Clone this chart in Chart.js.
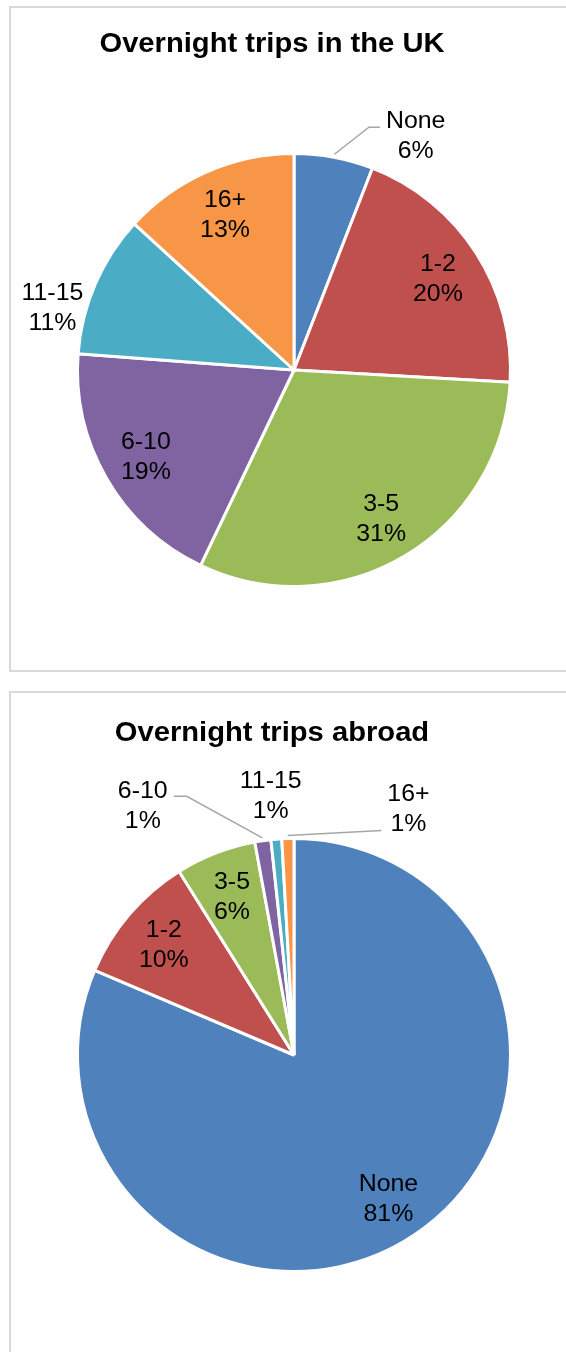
<!DOCTYPE html>
<html><head><meta charset="utf-8">
<script src="https://cdn.jsdelivr.net/npm/chart.js@4.4.1/dist/chart.umd.min.js"></script>
<style>
html,body{margin:0;padding:0;background:#fff;width:566px;height:1352px;overflow:hidden;position:relative}
.panel{position:absolute;left:9px;width:640px;border:2px solid #d9d9d9;box-sizing:border-box;background:#fff}
#p1{top:6px;height:666px}
#p2{top:691px;height:700px}
canvas{position:absolute;left:0}
#c1{top:0}
#c2{top:686px}
</style></head><body>
<div class="panel" id="p1"></div><div class="panel" id="p2"></div>
<canvas id="c1" width="566" height="680"></canvas>
<canvas id="c2" width="566" height="666"></canvas>
<script>
// ---- data ----
const categories = ['None', '1-2', '3-5', '6-10', '11-15', '16+'];
const ukTrips = [5.9, 20.0, 31.2, 19.1, 10.6, 13.2];
const abroadTrips = [81.4, 9.7, 6.0, 1.2, 0.8, 0.9];
const ukTitle = 'Overnight trips in the UK';
const abroadTitle = 'Overnight trips abroad';

// ---- styles ----
const sliceColors = ['#4F81BD', '#C0504D', '#9BBB59', '#8064A2', '#4BACC6', '#F79646'];
const FONT = '"Liberation Sans", Arial, Helvetica, sans-serif';
const LABEL_SIZE = 23.5, TITLE_SIZE = 27, STRETCH = 1.06, TITLE_STRETCH = 1.08, LINE_GAP = 30;
// label placement (null = inside at mid-angle); angle in degrees clockwise from top, dist as fraction of radius
const ukPlacement = [
  {angle: 27.3, dist: 1.22, leader: {dy: -7, elbow: 11}},
  null, null, null,
  {angle: 284.65, dist: 1.148},
  null
];
const abroadPlacement = [
  null, null, null,
  {angle: 328.9, dist: 1.346, leader: {dy: -8, elbow: 13}},
  {angle: 354.9, dist: 1.203},
  {angle: 24.8, dist: 1.254, leader: {dy: 23, elbow: 0}}
];

function stretchedText(ctx, text, x, y, s) {
  ctx.save();
  ctx.translate(x, y);
  ctx.scale(s, 1);
  ctx.fillText(text, 0, 0);
  ctx.restore();
}

function labelPlugin(title, titleX, titleBaseline, placement) {
  return {
    id: 'pieLabels',
    afterDatasetsDraw(chart) {
      const ctx = chart.ctx;
      const meta = chart.getDatasetMeta(0);
      const data = chart.data.datasets[0].data;
      const total = data.reduce((a, b) => a + b, 0);
      ctx.save();
      ctx.fillStyle = '#000';
      ctx.textAlign = 'center';
      ctx.textBaseline = 'alphabetic';
      ctx.font = 'bold ' + TITLE_SIZE + 'px ' + FONT;
      stretchedText(ctx, title, titleX, titleBaseline, TITLE_STRETCH);
      ctx.font = LABEL_SIZE + 'px ' + FONT;
      meta.data.forEach((arc, i) => {
        const {x, y, startAngle, endAngle, outerRadius} = arc.getProps(['x', 'y', 'startAngle', 'endAngle', 'outerRadius'], true);
        const R = outerRadius + 1;
        const mid = (startAngle + endAngle) / 2;
        const p = placement[i];
        let cx, cy;
        if (p) {
          const a = p.angle * Math.PI / 180 - Math.PI / 2;
          cx = x + Math.cos(a) * R * p.dist;
          cy = y + Math.sin(a) * R * p.dist;
        } else {
          cx = x + Math.cos(mid) * R * 0.787;
          cy = y + Math.sin(mid) * R * 0.787;
        }
        const line1 = categories[i];
        const line2 = Math.round(data[i] / total * 100) + '%';
        const w = Math.max(ctx.measureText(line1).width, ctx.measureText(line2).width) * STRETCH;
        const off = 0.358 * LABEL_SIZE;
        ctx.fillStyle = '#000';
        stretchedText(ctx, line1, cx, cy - LINE_GAP / 2 + off, STRETCH);
        stretchedText(ctx, line2, cx, cy + LINE_GAP / 2 + off, STRETCH);
        if (p && p.leader) {
          const sx = x + Math.cos(mid) * (R + 2);
          const sy = y + Math.sin(mid) * (R + 2);
          const right = cx > sx;
          const ex = right ? cx - w / 2 - 6 : cx + w / 2 + 6;
          const ey = cy + p.leader.dy;
          const bx = right ? ex - p.leader.elbow : ex + p.leader.elbow;
          ctx.strokeStyle = '#A6A6A6';
          ctx.lineWidth = 1.5;
          ctx.beginPath();
          ctx.moveTo(sx, sy);
          ctx.lineTo(bx, ey);
          ctx.lineTo(ex, ey);
          ctx.stroke();
        }
      });
      ctx.restore();
    }
  };
}

function makePie(id, values, title, titleBaseline, placement, padding) {
  return new Chart(document.getElementById(id), {
    type: 'pie',
    data: {
      labels: categories,
      datasets: [{
        data: values,
        backgroundColor: sliceColors,
        borderColor: '#FFFFFF',
        borderWidth: 3
      }]
    },
    options: {
      responsive: false,
      animation: false,
      devicePixelRatio: 1,
      rotation: 0,
      layout: {padding: padding},
      plugins: {legend: {display: false}, tooltip: {enabled: false}, title: {display: false}}
    },
    plugins: [labelPlugin(title, 272, titleBaseline, placement)]
  });
}

makePie('c1', ukTrips, ukTitle, 52, ukPlacement, {left: 76, right: 54, top: 152, bottom: 92});
makePie('c2', abroadTrips, abroadTitle, 55, abroadPlacement, {left: 76, right: 54, top: 151, bottom: 79});
</script>
</body></html>
